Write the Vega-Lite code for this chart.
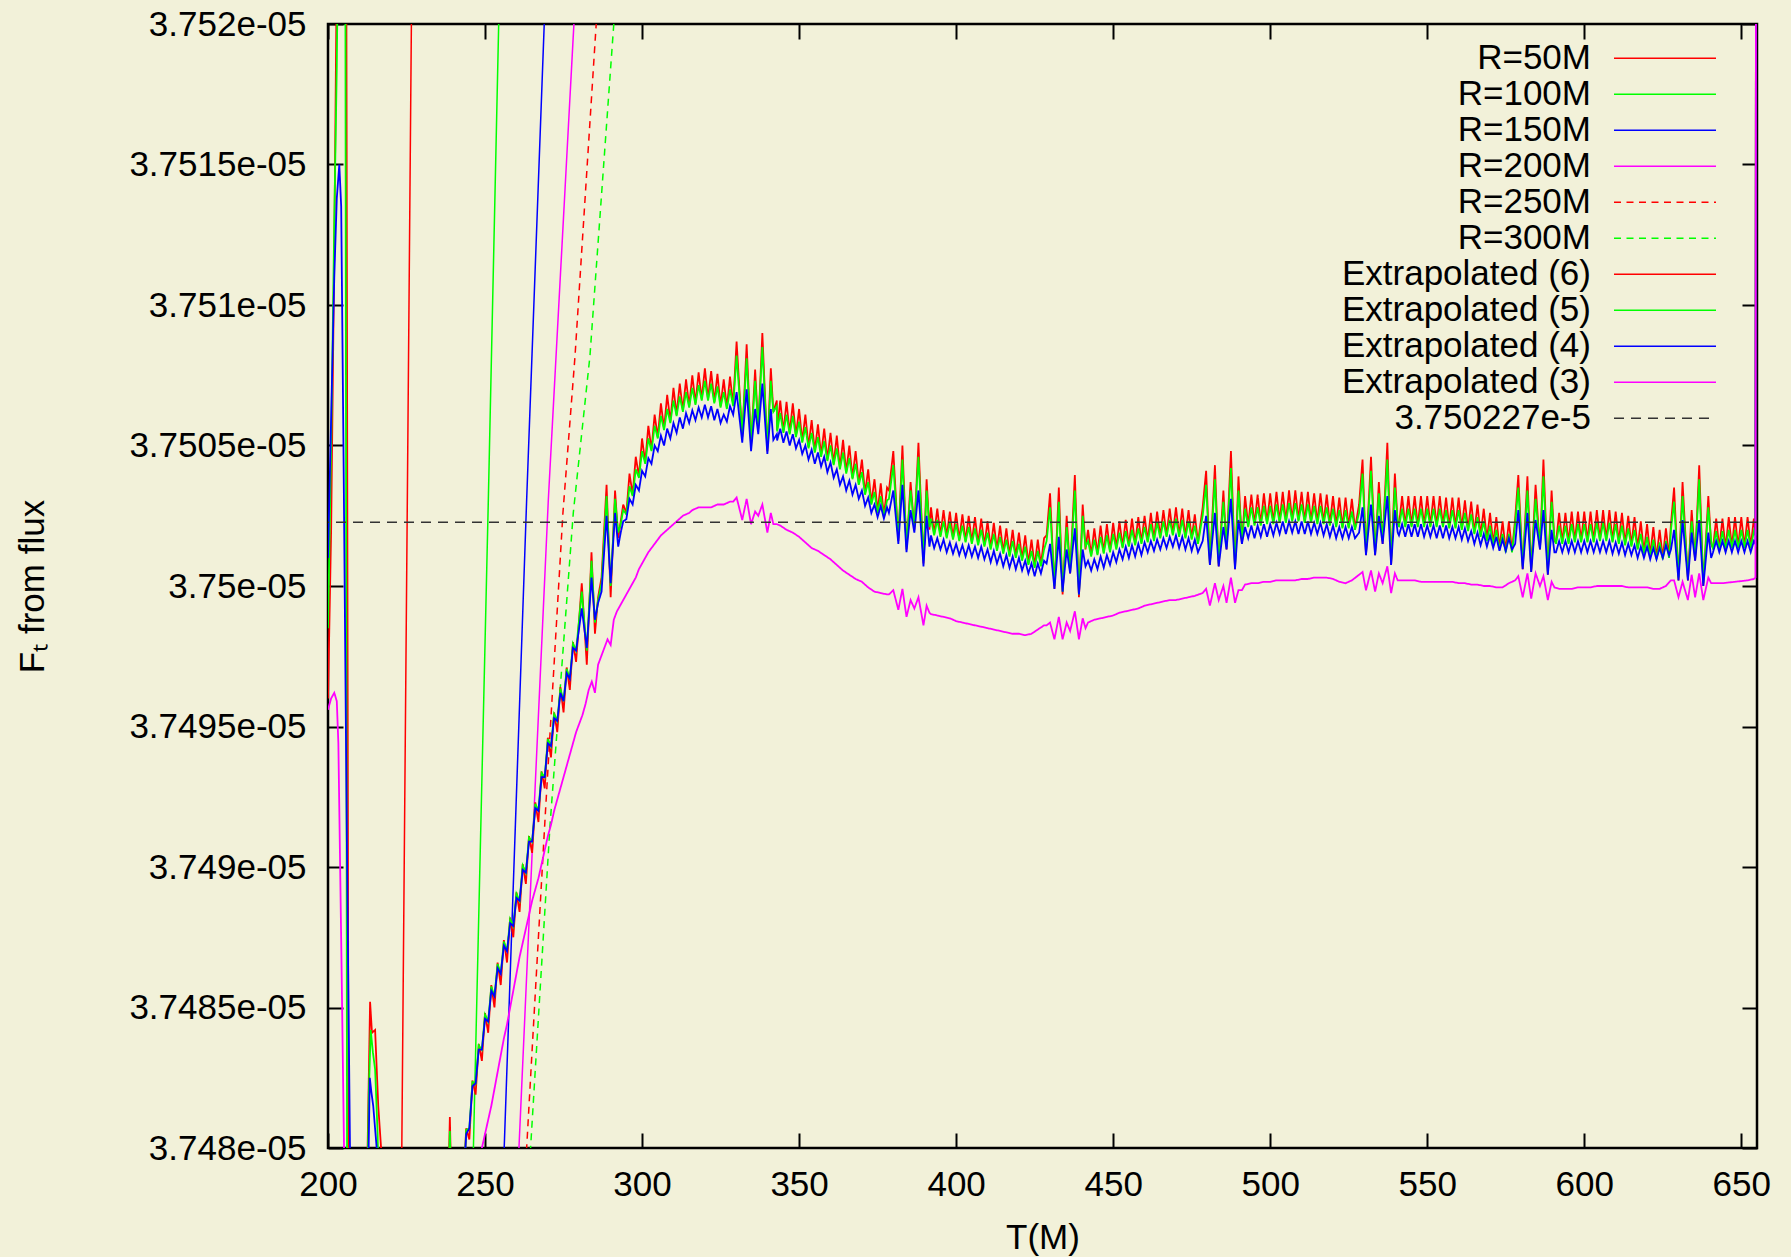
{
"$schema":"https://vega.github.io/schema/vega-lite/v6.json",
"width":1429,"height":1124,
"autosize":{"type":"none"},
"padding":{"left":328,"top":24,"right":34,"bottom":109},
"background":"#f2f1d9",
"config":{
"view":{"stroke":"#000","strokeWidth":2.5},
"font":"Liberation Sans",
"axis":{"labelFont":"Liberation Sans","labelFontSize":35,"labelColor":"#000","titleFont":"Liberation Sans","titleFontSize":35,"titleFontWeight":"normal","titleColor":"#000","tickColor":"#000","tickWidth":2,"tickSize":-15,"domain":false,"grid":false,"labelFlush":false,"labelOverlap":false},
"legend":{"orient":"none","legendX":1319.5,"legendY":16.8,"labelFont":"Liberation Sans","labelFontSize":35,"labelColor":"#000","labelLimit":0,"labelAlign":"right","labelOffset":-91.5,"symbolType":"M-3.045,0H3.045","symbolSize":1122,"symbolStrokeWidth":1.5,"rowPadding":-1.3,"padding":0}
},
"datasets":{
"raw":[
{"s":"R=50M","T":222,"F":3.74603e-5},{"s":"R=50M","T":223.5,"F":3.748e-5},{"s":"R=50M","T":226.55,"F":3.752e-5},{"s":"R=50M","T":228,"F":3.7539e-5},
{"s":"R=100M","T":245,"F":3.74735e-5},{"s":"R=100M","T":246.3,"F":3.748e-5},{"s":"R=100M","T":251.05,"F":3.750306e-5},{"s":"R=100M","T":254.35,"F":3.752e-5},{"s":"R=100M","T":256,"F":3.75285e-5},
{"s":"R=150M","T":255,"F":3.74765e-5},{"s":"R=150M","T":256.1,"F":3.748e-5},{"s":"R=150M","T":263.25,"F":3.750306e-5},{"s":"R=150M","T":268.85,"F":3.752e-5},{"s":"R=150M","T":271,"F":3.7526e-5},
{"s":"R=200M","T":259,"F":3.74755e-5},{"s":"R=200M","T":260.8,"F":3.748e-5},{"s":"R=200M","T":265.4,"F":3.74915e-5},{"s":"R=200M","T":270.15,"F":3.750306e-5},{"s":"R=200M","T":278.3,"F":3.752e-5},{"s":"R=200M","T":281,"F":3.7525e-5},
{"s":"R=250M","T":261,"F":3.7475e-5},{"s":"R=250M","T":263.25,"F":3.748e-5},{"s":"R=250M","T":269.1,"F":3.74917e-5},{"s":"R=250M","T":274.8,"F":3.75026e-5},{"s":"R=250M","T":278.65,"F":3.750818e-5},{"s":"R=250M","T":285.4,"F":3.752e-5},{"s":"R=250M","T":288,"F":3.75235e-5},
{"s":"R=300M","T":262,"F":3.74745e-5},{"s":"R=300M","T":264.5,"F":3.748e-5},{"s":"R=300M","T":270.7,"F":3.74915e-5},{"s":"R=300M","T":278.1,"F":3.75026e-5},{"s":"R=300M","T":283.4,"F":3.750818e-5},{"s":"R=300M","T":291,"F":3.752e-5},{"s":"R=300M","T":294,"F":3.75235e-5}
],
"ref":[{"s":"3.750227e-5","F":3.750227e-5}],
"ext":[
{"T":200,"a":3.7496e-5,"b":3.74985e-5,"c":3.7501e-5,"d":3.74956e-5},
{"T":201,"a":3.7502e-5,"b":3.7505e-5,"c":3.7506e-5,"d":3.7496e-5},
{"T":202,"a":3.7512e-5,"b":3.7513e-5,"c":3.7511e-5,"d":3.74962e-5},
{"T":202.8,"a":3.7522e-5,"b":3.75185e-5,"c":3.75138e-5,"d":3.74959e-5},
{"T":203.3,"a":3.7526e-5,"b":3.7524e-5,"d":3.74944e-5},
{"T":203.6,"c":3.7515e-5},
{"T":204.2,"c":3.75135e-5},
{"T":204.3,"d":3.74866e-5},
{"T":205,"a":3.7527e-5,"b":3.7526e-5,"c":3.7504e-5},
{"T":205.1,"d":3.748e-5},
{"T":205.5,"b":3.7524e-5,"d":3.7477e-5},
{"T":205.8,"a":3.7524e-5},
{"T":206,"c":3.7491e-5},
{"T":206.1,"b":3.7477e-5},
{"T":206.6,"a":3.7476e-5},
{"T":207,"c":3.748e-5},
{"T":207.5,"c":3.7475e-5},
{"T":210,"a":3.7474e-5,"b":3.7474e-5,"c":3.7474e-5,"d":3.7472e-5},
{"T":212.3,"a":3.7478e-5,"b":3.7477e-5},
{"T":212.8,"c":3.7479e-5},
{"T":213,"b":3.7482e-5},
{"T":213.3,"c":3.74825e-5},
{"T":213.4,"a":3.74852e-5},
{"T":213.6,"b":3.74842e-5},
{"T":213.8,"c":3.7482e-5},
{"T":214,"a":3.74841e-5},
{"T":214.3,"b":3.74834e-5},
{"T":214.4,"c":3.74815e-5},
{"T":215,"a":3.74842e-5,"b":3.74828e-5},
{"T":215.5,"c":3.748e-5},
{"T":215.8,"b":3.74805e-5},
{"T":216,"a":3.74815e-5,"c":3.7477e-5},
{"T":216.4,"b":3.7477e-5},
{"T":216.9,"a":3.748e-5},
{"T":217.5,"a":3.7476e-5},
{"T":225,"a":3.7474e-5,"b":3.7474e-5,"c":3.7474e-5},
{"T":238.2,"a":3.7478e-5,"b":3.7478e-5},
{"T":238.8,"a":3.74811e-5,"b":3.74806e-5},
{"T":239.4,"a":3.7478e-5,"b":3.7478e-5},
{"T":240,"d":3.7474e-5},
{"T":242.5,"a":3.7477e-5,"b":3.7477e-5,"c":3.7477e-5},
{"T":243.3,"c":3.7479e-5},
{"T":244,"a":3.74807e-5,"b":3.748065e-5,"c":3.74805e-5},
{"T":245,"a":3.74803e-5,"b":3.74807e-5,"c":3.74807e-5},
{"T":246,"a":3.74824e-5,"b":3.748235e-5,"c":3.74822e-5},
{"T":247,"a":3.74819e-5,"b":3.74823e-5,"c":3.74823e-5},
{"T":248,"a":3.74837e-5,"b":3.748365e-5,"c":3.74835e-5,"d":3.74785e-5},
{"T":249,"a":3.74831e-5,"b":3.74835e-5,"c":3.74835e-5,"d":3.748e-5},
{"T":250,"a":3.74848e-5,"b":3.748475e-5,"c":3.74846e-5,"d":3.74805e-5},
{"T":251,"a":3.74841e-5,"b":3.74845e-5,"c":3.74845e-5,"d":3.7481e-5},
{"T":252,"a":3.74858e-5,"b":3.748575e-5,"c":3.74856e-5,"d":3.74815e-5},
{"T":253,"a":3.7485e-5,"b":3.74854e-5,"c":3.74854e-5,"d":3.74821e-5},
{"T":254,"a":3.74866e-5,"b":3.748655e-5,"c":3.74864e-5,"d":3.74827e-5},
{"T":255,"a":3.74858e-5,"b":3.74862e-5,"c":3.74862e-5,"d":3.74833e-5},
{"T":256,"a":3.74874e-5,"b":3.748735e-5,"c":3.74872e-5,"d":3.74839e-5},
{"T":257,"a":3.74866e-5,"b":3.7487e-5,"c":3.7487e-5,"d":3.74844e-5},
{"T":258,"a":3.74882e-5,"b":3.748815e-5,"c":3.7488e-5,"d":3.7485e-5},
{"T":259,"a":3.74875e-5,"b":3.74879e-5,"c":3.74879e-5,"d":3.74856e-5},
{"T":260,"a":3.74891e-5,"b":3.748905e-5,"c":3.74889e-5,"d":3.74862e-5},
{"T":261,"a":3.74884e-5,"b":3.74888e-5,"c":3.74888e-5,"d":3.74868e-5},
{"T":262,"a":3.74901e-5,"b":3.749005e-5,"c":3.74899e-5,"d":3.74873e-5},
{"T":263,"a":3.74894e-5,"b":3.74898e-5,"c":3.74898e-5,"d":3.74878e-5},
{"T":264,"a":3.74911e-5,"b":3.749105e-5,"c":3.74909e-5,"d":3.74883e-5},
{"T":265,"a":3.74905e-5,"b":3.74909e-5,"c":3.74909e-5,"d":3.74888e-5},
{"T":266,"a":3.74923e-5,"b":3.749225e-5,"c":3.74921e-5,"d":3.74892e-5},
{"T":267,"a":3.74916e-5,"b":3.7492e-5,"c":3.7492e-5,"d":3.74896e-5},
{"T":268,"a":3.74934e-5,"b":3.749335e-5,"c":3.74932e-5,"d":3.74901e-5},
{"T":269,"a":3.74928e-5,"b":3.74932e-5,"c":3.74932e-5,"d":3.74906e-5},
{"T":270,"a":3.74946e-5,"b":3.749455e-5,"c":3.74944e-5,"d":3.74911e-5},
{"T":271,"a":3.74939e-5,"b":3.74943e-5,"c":3.74943e-5,"d":3.74915e-5},
{"T":272,"a":3.74955e-5,"b":3.749545e-5,"c":3.74953e-5,"d":3.7492e-5},
{"T":273,"a":3.74948e-5,"b":3.74952e-5,"c":3.74952e-5,"d":3.74924e-5},
{"T":274,"a":3.74964e-5,"b":3.749635e-5,"c":3.74962e-5,"d":3.74928e-5},
{"T":275,"a":3.74955e-5,"b":3.74959e-5,"c":3.74959e-5,"d":3.74932e-5},
{"T":276,"a":3.74971e-5,"b":3.749705e-5,"c":3.74969e-5,"d":3.74936e-5},
{"T":277,"a":3.74963e-5,"b":3.74967e-5,"c":3.74967e-5,"d":3.7494e-5},
{"T":278,"a":3.7498e-5,"b":3.749795e-5,"c":3.74978e-5,"d":3.74944e-5},
{"T":279,"a":3.74973e-5,"b":3.74977e-5,"c":3.74977e-5,"d":3.74948e-5},
{"T":280,"d":3.74951e-5},
{"T":280.8,"a":3.75001e-5,"b":3.74998e-5,"c":3.74992e-5},
{"T":281,"d":3.74954e-5},
{"T":282,"d":3.74958e-5},
{"T":282.4,"a":3.74972e-5,"b":3.74977e-5,"c":3.74978e-5},
{"T":283,"d":3.74963e-5},
{"T":283.9,"a":3.75012e-5,"b":3.75009e-5,"c":3.75003e-5},
{"T":284,"d":3.74966e-5},
{"T":285,"a":3.74983e-5,"b":3.74987e-5,"c":3.74988e-5,"d":3.74962e-5},
{"T":286,"a":3.74996e-5,"b":3.74995e-5,"c":3.74994e-5,"d":3.74972e-5},
{"T":287,"d":3.74975e-5},
{"T":287.1,"a":3.75003e-5,"b":3.75001e-5,"c":3.74998e-5},
{"T":288,"d":3.74978e-5},
{"T":288.7,"a":3.75036e-5,"b":3.75032e-5,"c":3.75025e-5},
{"T":289,"d":3.74981e-5},
{"T":290,"a":3.74996e-5,"b":3.75e-5,"c":3.75001e-5,"d":3.74979e-5},
{"T":291,"d":3.74988e-5},
{"T":291.4,"a":3.75034e-5,"b":3.75031e-5,"c":3.75026e-5},
{"T":292,"d":3.74991e-5},
{"T":292.4,"a":3.75017e-5,"b":3.75019e-5,"c":3.75014e-5},
{"T":293,"d":3.74993e-5},
{"T":293.2,"a":3.75023e-5,"b":3.75022e-5,"c":3.75019e-5},
{"T":294,"a":3.75029e-5,"b":3.75027e-5,"c":3.75023e-5,"d":3.74995e-5},
{"T":295,"a":3.75026e-5,"b":3.750255e-5,"c":3.750238e-5,"d":3.74997e-5},
{"T":296,"a":3.7504e-5,"b":3.750355e-5,"c":3.75031e-5,"d":3.74999e-5},
{"T":297,"a":3.750325e-5,"b":3.75032e-5,"c":3.75029e-5,"d":3.75001e-5},
{"T":298,"a":3.75046e-5,"b":3.750415e-5,"c":3.75036e-5,"d":3.75003e-5},
{"T":299,"a":3.75039e-5,"b":3.750385e-5,"c":3.75034e-5,"d":3.75006e-5},
{"T":300,"a":3.750525e-5,"b":3.75048e-5,"c":3.75041e-5,"d":3.75008e-5},
{"T":301,"a":3.75044e-5,"b":3.750435e-5,"c":3.75039e-5,"d":3.7501e-5},
{"T":302,"a":3.75057e-5,"b":3.750525e-5,"c":3.750455e-5,"d":3.75012e-5},
{"T":303,"a":3.750485e-5,"b":3.75048e-5,"c":3.750435e-5,"d":3.750135e-5},
{"T":304,"a":3.75061e-5,"b":3.75057e-5,"c":3.7505e-5,"d":3.75015e-5},
{"T":305,"a":3.75053e-5,"b":3.750525e-5,"c":3.75048e-5,"d":3.750165e-5},
{"T":306,"a":3.75065e-5,"b":3.750605e-5,"c":3.750535e-5,"d":3.75018e-5},
{"T":307,"a":3.75056e-5,"b":3.750555e-5,"c":3.7505e-5,"d":3.75019e-5},
{"T":308,"a":3.75068e-5,"b":3.75063e-5,"c":3.75056e-5,"d":3.7502e-5},
{"T":309,"a":3.750585e-5,"b":3.75058e-5,"c":3.750525e-5,"d":3.75021e-5},
{"T":310,"a":3.750705e-5,"b":3.75066e-5,"c":3.75058e-5,"d":3.75022e-5},
{"T":311,"a":3.75061e-5,"b":3.750605e-5,"c":3.750545e-5,"d":3.75023e-5},
{"T":312,"a":3.75072e-5,"b":3.750675e-5,"c":3.7506e-5,"d":3.75024e-5},
{"T":313,"a":3.750625e-5,"b":3.75062e-5,"c":3.75056e-5,"d":3.75025e-5},
{"T":314,"a":3.750735e-5,"b":3.75069e-5,"c":3.750615e-5,"d":3.750255e-5},
{"T":315,"a":3.75064e-5,"b":3.750635e-5,"c":3.75058e-5,"d":3.75026e-5},
{"T":316,"a":3.75075e-5,"b":3.750705e-5,"c":3.750625e-5,"d":3.75027e-5},
{"T":317,"a":3.75065e-5,"b":3.750645e-5,"c":3.75059e-5,"d":3.750275e-5},
{"T":318,"a":3.75076e-5,"b":3.750715e-5,"c":3.750635e-5,"d":3.75028e-5},
{"T":319,"a":3.750665e-5,"b":3.75066e-5,"c":3.7506e-5,"d":3.75028e-5},
{"T":320,"a":3.750775e-5,"b":3.75073e-5,"c":3.750645e-5,"d":3.75028e-5},
{"T":321,"a":3.750665e-5,"b":3.75066e-5,"c":3.7506e-5,"d":3.75028e-5},
{"T":322,"a":3.750765e-5,"b":3.75072e-5,"c":3.75064e-5,"d":3.75028e-5},
{"T":323,"a":3.750655e-5,"b":3.75065e-5,"c":3.75059e-5,"d":3.750285e-5},
{"T":324,"a":3.750755e-5,"b":3.75071e-5,"c":3.75063e-5,"d":3.75029e-5},
{"T":325,"a":3.75064e-5,"b":3.750635e-5,"c":3.75058e-5,"d":3.75029e-5},
{"T":326,"a":3.750735e-5,"b":3.75069e-5,"c":3.75061e-5,"d":3.75029e-5},
{"T":327,"a":3.750635e-5,"b":3.75063e-5,"c":3.750585e-5,"d":3.750295e-5},
{"T":328,"a":3.750745e-5,"b":3.7507e-5,"c":3.75064e-5,"d":3.7503e-5},
{"T":329,"a":3.750645e-5,"b":3.75064e-5,"c":3.75061e-5,"d":3.7503e-5},
{"T":330.1,"a":3.75087e-5,"b":3.75082e-5,"c":3.75069e-5,"d":3.750315e-5},
{"T":331.9,"a":3.75053e-5,"b":3.75054e-5,"c":3.75051e-5,"d":3.750235e-5},
{"T":333.3,"a":3.75086e-5,"b":3.75081e-5,"c":3.7507e-5,"d":3.75031e-5},
{"T":334.7,"a":3.7505e-5,"b":3.75051e-5,"c":3.75048e-5,"d":3.75022e-5},
{"T":336,"a":3.75077e-5,"b":3.75073e-5,"c":3.75063e-5,"d":3.750265e-5},
{"T":337,"a":3.75056e-5,"b":3.75057e-5,"c":3.75054e-5,"d":3.75025e-5},
{"T":338.3,"a":3.7509e-5,"b":3.75085e-5,"c":3.75072e-5,"d":3.75029e-5},
{"T":339.9,"a":3.75048e-5,"b":3.75049e-5,"c":3.75047e-5,"d":3.75019e-5},
{"T":341,"a":3.750775e-5,"b":3.75073e-5,"c":3.75063e-5,"d":3.75026e-5},
{"T":341.8,"a":3.75062e-5,"b":3.75062e-5,"c":3.75052e-5,"d":3.75022e-5},
{"T":342.9,"a":3.75066e-5,"b":3.75064e-5,"c":3.75054e-5,"d":3.75022e-5},
{"T":343,"a":3.750555e-5,"b":3.75055e-5,"c":3.750518e-5},
{"T":344,"a":3.75066e-5,"b":3.750615e-5,"c":3.75056e-5,"d":3.750215e-5},
{"T":345,"a":3.75055e-5,"b":3.750545e-5,"c":3.75051e-5},
{"T":346,"a":3.750655e-5,"b":3.75061e-5,"c":3.75055e-5,"d":3.7502e-5},
{"T":347,"a":3.750545e-5,"b":3.75054e-5,"c":3.7505e-5},
{"T":348,"a":3.75065e-5,"b":3.750605e-5,"c":3.75054e-5,"d":3.75019e-5},
{"T":349,"a":3.750535e-5,"b":3.75053e-5,"c":3.75049e-5},
{"T":350,"a":3.75063e-5,"b":3.750585e-5,"c":3.75052e-5,"d":3.750175e-5},
{"T":351,"a":3.750515e-5,"b":3.75051e-5,"c":3.75047e-5},
{"T":352,"a":3.75061e-5,"b":3.750565e-5,"c":3.7505e-5,"d":3.750155e-5},
{"T":353,"a":3.750495e-5,"b":3.75049e-5,"c":3.75045e-5},
{"T":354,"a":3.75059e-5,"b":3.750545e-5,"c":3.750485e-5,"d":3.750135e-5},
{"T":355,"a":3.75048e-5,"b":3.750475e-5,"c":3.750435e-5},
{"T":356,"a":3.750575e-5,"b":3.75053e-5,"c":3.750475e-5,"d":3.750125e-5},
{"T":357,"a":3.750465e-5,"b":3.75046e-5,"c":3.750425e-5},
{"T":358,"a":3.75056e-5,"b":3.750515e-5,"c":3.75046e-5,"d":3.75011e-5},
{"T":359,"a":3.75045e-5,"b":3.750445e-5,"c":3.750405e-5},
{"T":360,"a":3.750545e-5,"b":3.7505e-5,"c":3.75044e-5,"d":3.750095e-5},
{"T":361,"a":3.750435e-5,"b":3.75043e-5,"c":3.750385e-5},
{"T":362,"a":3.750535e-5,"b":3.75049e-5,"c":3.750415e-5,"d":3.750075e-5},
{"T":363,"a":3.75042e-5,"b":3.750415e-5,"c":3.75036e-5},
{"T":364,"a":3.75052e-5,"b":3.750475e-5,"c":3.75039e-5,"d":3.750055e-5},
{"T":365,"a":3.750405e-5,"b":3.7504e-5,"c":3.75034e-5},
{"T":366,"a":3.7505e-5,"b":3.750455e-5,"c":3.750375e-5,"d":3.75004e-5},
{"T":367,"a":3.750385e-5,"b":3.75038e-5,"c":3.750325e-5},
{"T":368,"a":3.75048e-5,"b":3.750435e-5,"c":3.75036e-5,"d":3.750025e-5},
{"T":369,"a":3.750365e-5,"b":3.75036e-5,"c":3.75031e-5},
{"T":370,"a":3.75045e-5,"b":3.750405e-5,"c":3.75034e-5,"d":3.750015e-5},
{"T":371,"a":3.75033e-5,"b":3.750325e-5,"c":3.750285e-5},
{"T":372,"a":3.750415e-5,"b":3.75037e-5,"c":3.750315e-5,"d":3.749995e-5},
{"T":373,"a":3.750295e-5,"b":3.75029e-5,"c":3.75026e-5},
{"T":374,"a":3.75038e-5,"b":3.750335e-5,"c":3.75029e-5,"d":3.74998e-5},
{"T":375,"a":3.750265e-5,"b":3.75026e-5,"c":3.750245e-5},
{"T":376,"a":3.750365e-5,"b":3.75032e-5,"c":3.750285e-5,"d":3.749975e-5},
{"T":377,"a":3.75025e-5,"b":3.750245e-5,"c":3.75024e-5},
{"T":378,"a":3.75035e-5,"b":3.750305e-5,"c":3.75028e-5,"d":3.74997e-5},
{"T":378.6,"a":3.75034e-5,"b":3.75031e-5,"c":3.75026e-5,"d":3.74997e-5},
{"T":380,"a":3.75048e-5,"b":3.75043e-5,"c":3.75034e-5,"d":3.749985e-5},
{"T":381.6,"a":3.75016e-5,"b":3.75017e-5,"c":3.75015e-5,"d":3.749915e-5},
{"T":382.9,"a":3.7505e-5,"b":3.75045e-5,"c":3.75036e-5,"d":3.74999e-5},
{"T":384.2,"a":3.75013e-5,"b":3.75014e-5,"c":3.75012e-5,"d":3.74989e-5},
{"T":385.5,"a":3.75037e-5,"b":3.75034e-5,"c":3.75027e-5,"d":3.74995e-5},
{"T":386.7,"a":3.7502e-5,"b":3.75021e-5,"c":3.75019e-5,"d":3.74992e-5},
{"T":388,"a":3.75051e-5,"b":3.75046e-5,"c":3.75034e-5,"d":3.74996e-5},
{"T":389.6,"a":3.75008e-5,"b":3.75009e-5,"c":3.75007e-5,"d":3.74986e-5},
{"T":390.6,"a":3.75038e-5,"b":3.75034e-5,"c":3.75025e-5,"d":3.74993e-5},
{"T":391.5,"a":3.7502e-5,"b":3.75021e-5,"c":3.75014e-5,"d":3.749905e-5},
{"T":392,"a":3.75028e-5,"b":3.75024e-5,"c":3.75018e-5,"d":3.7499e-5},
{"T":393,"a":3.750185e-5,"b":3.75018e-5,"c":3.750135e-5},
{"T":394,"a":3.750275e-5,"b":3.750235e-5,"c":3.75017e-5,"d":3.749895e-5},
{"T":395,"a":3.75018e-5,"b":3.750175e-5,"c":3.75013e-5},
{"T":396,"a":3.75027e-5,"b":3.75023e-5,"c":3.750165e-5,"d":3.74989e-5},
{"T":397,"a":3.750175e-5,"b":3.75017e-5,"c":3.75012e-5},
{"T":398,"a":3.750265e-5,"b":3.750225e-5,"c":3.750155e-5,"d":3.749885e-5},
{"T":399,"a":3.75017e-5,"b":3.750165e-5,"c":3.750115e-5},
{"T":400,"a":3.75026e-5,"b":3.75022e-5,"c":3.75015e-5,"d":3.749875e-5},
{"T":401,"a":3.750165e-5,"b":3.75016e-5,"c":3.75011e-5},
{"T":402,"a":3.750255e-5,"b":3.750215e-5,"c":3.750145e-5,"d":3.74987e-5},
{"T":403,"a":3.75016e-5,"b":3.750155e-5,"c":3.750105e-5},
{"T":404,"a":3.75025e-5,"b":3.75021e-5,"c":3.750145e-5,"d":3.749865e-5},
{"T":405,"a":3.750155e-5,"b":3.75015e-5,"c":3.750105e-5},
{"T":406,"a":3.750245e-5,"b":3.750205e-5,"c":3.75014e-5,"d":3.74986e-5},
{"T":407,"a":3.75015e-5,"b":3.750145e-5,"c":3.7501e-5},
{"T":408,"a":3.75024e-5,"b":3.7502e-5,"c":3.75014e-5,"d":3.749855e-5},
{"T":409,"a":3.750145e-5,"b":3.75014e-5,"c":3.750095e-5},
{"T":410,"a":3.75023e-5,"b":3.75019e-5,"c":3.75013e-5,"d":3.74985e-5},
{"T":411,"a":3.750135e-5,"b":3.75013e-5,"c":3.750085e-5},
{"T":412,"a":3.750225e-5,"b":3.750185e-5,"c":3.750125e-5,"d":3.749845e-5},
{"T":413,"a":3.75013e-5,"b":3.750125e-5,"c":3.75008e-5},
{"T":414,"a":3.750215e-5,"b":3.750175e-5,"c":3.750115e-5,"d":3.74984e-5},
{"T":415,"a":3.75012e-5,"b":3.750115e-5,"c":3.75007e-5},
{"T":416,"a":3.750205e-5,"b":3.750165e-5,"c":3.75011e-5,"d":3.749835e-5},
{"T":417,"a":3.75011e-5,"b":3.750105e-5,"c":3.750065e-5},
{"T":418,"a":3.7502e-5,"b":3.75016e-5,"c":3.750105e-5,"d":3.74983e-5},
{"T":419,"a":3.750105e-5,"b":3.7501e-5,"c":3.75006e-5},
{"T":420,"a":3.75019e-5,"b":3.75015e-5,"c":3.7501e-5,"d":3.74983e-5},
{"T":421,"a":3.750095e-5,"b":3.75009e-5,"c":3.750055e-5},
{"T":422,"a":3.75018e-5,"b":3.75014e-5,"c":3.75009e-5,"d":3.749825e-5},
{"T":423,"a":3.75008e-5,"b":3.750075e-5,"c":3.750045e-5},
{"T":424,"a":3.750165e-5,"b":3.750125e-5,"c":3.75008e-5,"d":3.74983e-5},
{"T":425,"a":3.75007e-5,"b":3.750065e-5,"c":3.750035e-5},
{"T":426,"a":3.750165e-5,"b":3.750125e-5,"c":3.75008e-5,"d":3.749845e-5},
{"T":427,"a":3.750075e-5,"b":3.75007e-5,"c":3.750045e-5},
{"T":428,"a":3.75017e-5,"b":3.75013e-5,"c":3.75009e-5,"d":3.74986e-5},
{"T":428.8,"a":3.75018e-5,"b":3.75016e-5,"c":3.75008e-5,"d":3.74986e-5},
{"T":429.9,"a":3.75033e-5,"b":3.75028e-5,"c":3.75015e-5,"d":3.74987e-5},
{"T":431.3,"a":3.74999e-5,"b":3.75e-5,"c":3.74999e-5,"d":3.74981e-5},
{"T":432.7,"a":3.75035e-5,"b":3.7503e-5,"c":3.750175e-5,"d":3.74989e-5},
{"T":433.9,"a":3.74997e-5,"b":3.74998e-5,"c":3.74998e-5,"d":3.74981e-5},
{"T":435.2,"a":3.75025e-5,"b":3.75021e-5,"c":3.75013e-5,"d":3.74987e-5},
{"T":436.3,"a":3.750045e-5,"b":3.75005e-5,"c":3.750045e-5,"d":3.74984e-5},
{"T":437.8,"a":3.750395e-5,"b":3.75034e-5,"c":3.750205e-5,"d":3.74991e-5},
{"T":439.1,"a":3.74996e-5,"b":3.74997e-5,"c":3.74997e-5,"d":3.74981e-5},
{"T":440.3,"a":3.75029e-5,"b":3.75025e-5,"c":3.75013e-5,"d":3.749885e-5},
{"T":441.2,"a":3.75013e-5,"b":3.75014e-5,"c":3.75007e-5,"d":3.74985e-5},
{"T":442,"a":3.7502e-5,"b":3.75016e-5,"c":3.75009e-5,"d":3.74987e-5},
{"T":443,"a":3.75011e-5,"b":3.750105e-5,"c":3.750055e-5},
{"T":444,"a":3.750205e-5,"b":3.750165e-5,"c":3.750095e-5,"d":3.74988e-5},
{"T":445,"a":3.750115e-5,"b":3.75011e-5,"c":3.75006e-5},
{"T":446,"a":3.750215e-5,"b":3.750175e-5,"c":3.750105e-5,"d":3.749885e-5},
{"T":447,"a":3.75012e-5,"b":3.750115e-5,"c":3.750065e-5},
{"T":448,"a":3.75022e-5,"b":3.75018e-5,"c":3.75011e-5,"d":3.74989e-5},
{"T":449,"a":3.750125e-5,"b":3.75012e-5,"c":3.750075e-5},
{"T":450,"a":3.750225e-5,"b":3.750185e-5,"c":3.75012e-5,"d":3.749895e-5},
{"T":451,"a":3.750135e-5,"b":3.75013e-5,"c":3.750085e-5},
{"T":452,"a":3.75023e-5,"b":3.75019e-5,"c":3.75013e-5,"d":3.749905e-5},
{"T":453,"a":3.75014e-5,"b":3.750135e-5,"c":3.750095e-5},
{"T":454,"a":3.750235e-5,"b":3.750195e-5,"c":3.75014e-5,"d":3.74991e-5},
{"T":455,"a":3.750145e-5,"b":3.75014e-5,"c":3.7501e-5},
{"T":456,"a":3.75024e-5,"b":3.7502e-5,"c":3.750145e-5,"d":3.749915e-5},
{"T":457,"a":3.75015e-5,"b":3.750145e-5,"c":3.750105e-5},
{"T":458,"a":3.750245e-5,"b":3.750205e-5,"c":3.75015e-5,"d":3.74992e-5},
{"T":459,"a":3.750155e-5,"b":3.75015e-5,"c":3.75011e-5},
{"T":460,"a":3.75025e-5,"b":3.75021e-5,"c":3.750155e-5,"d":3.74993e-5},
{"T":461,"a":3.75016e-5,"b":3.750155e-5,"c":3.75012e-5},
{"T":462,"a":3.75026e-5,"b":3.75022e-5,"c":3.75016e-5,"d":3.749935e-5},
{"T":463,"a":3.750165e-5,"b":3.75016e-5,"c":3.750125e-5},
{"T":464,"a":3.750265e-5,"b":3.750225e-5,"c":3.750165e-5,"d":3.74994e-5},
{"T":465,"a":3.750175e-5,"b":3.75017e-5,"c":3.75013e-5},
{"T":466,"a":3.75027e-5,"b":3.75023e-5,"c":3.75017e-5,"d":3.749945e-5},
{"T":467,"a":3.75018e-5,"b":3.750175e-5,"c":3.750135e-5},
{"T":468,"a":3.750275e-5,"b":3.750235e-5,"c":3.750175e-5,"d":3.74995e-5},
{"T":469,"a":3.750185e-5,"b":3.75018e-5,"c":3.75014e-5},
{"T":470,"a":3.75028e-5,"b":3.75024e-5,"c":3.75018e-5,"d":3.74995e-5},
{"T":471,"a":3.75018e-5,"b":3.750175e-5,"c":3.750135e-5},
{"T":472,"a":3.750275e-5,"b":3.750235e-5,"c":3.750175e-5,"d":3.749955e-5},
{"T":473,"a":3.750175e-5,"b":3.75017e-5,"c":3.75013e-5},
{"T":474,"a":3.75027e-5,"b":3.75023e-5,"c":3.75017e-5,"d":3.74996e-5},
{"T":475,"a":3.75017e-5,"b":3.750165e-5,"c":3.750125e-5},
{"T":476,"a":3.750255e-5,"b":3.750215e-5,"c":3.750165e-5,"d":3.749965e-5},
{"T":477,"a":3.750155e-5,"b":3.75015e-5,"c":3.75012e-5},
{"T":478.5,"a":3.75028e-5,"b":3.75025e-5,"c":3.75016e-5,"d":3.749975e-5},
{"T":479.6,"a":3.75041e-5,"b":3.75036e-5,"c":3.75025e-5,"d":3.74999e-5},
{"T":480.8,"a":3.750075e-5,"b":3.75008e-5,"c":3.750075e-5,"d":3.74993e-5},
{"T":482.4,"a":3.75043e-5,"b":3.75038e-5,"c":3.75026e-5,"d":3.75001e-5},
{"T":483.6,"a":3.75007e-5,"b":3.75008e-5,"c":3.75007e-5,"d":3.74995e-5},
{"T":485.1,"a":3.75034e-5,"b":3.7503e-5,"c":3.75021e-5,"d":3.75e-5},
{"T":486.1,"a":3.75013e-5,"b":3.75014e-5,"c":3.75013e-5,"d":3.74994e-5},
{"T":487.5,"a":3.75048e-5,"b":3.75042e-5,"c":3.75031e-5,"d":3.75003e-5},
{"T":488.8,"a":3.75006e-5,"b":3.75007e-5,"c":3.75006e-5,"d":3.74994e-5},
{"T":489.9,"a":3.75039e-5,"b":3.75034e-5,"c":3.750235e-5,"d":3.749985e-5},
{"T":491,"a":3.75015e-5,"b":3.75016e-5,"c":3.75015e-5,"d":3.749985e-5},
{"T":492,"a":3.75032e-5,"b":3.750275e-5,"c":3.75021e-5,"d":3.750005e-5},
{"T":493,"a":3.750215e-5,"b":3.75021e-5,"c":3.75017e-5},
{"T":494,"a":3.750325e-5,"b":3.75028e-5,"c":3.750215e-5,"d":3.75001e-5},
{"T":495,"a":3.75022e-5,"b":3.750215e-5,"c":3.75017e-5},
{"T":496,"a":3.750325e-5,"b":3.75028e-5,"c":3.750215e-5,"d":3.75001e-5},
{"T":497,"a":3.75022e-5,"b":3.750215e-5,"c":3.750175e-5},
{"T":498,"a":3.75033e-5,"b":3.750285e-5,"c":3.75022e-5,"d":3.750015e-5},
{"T":499,"a":3.750225e-5,"b":3.75022e-5,"c":3.750175e-5},
{"T":500,"a":3.75033e-5,"b":3.750285e-5,"c":3.75022e-5,"d":3.750015e-5},
{"T":501,"a":3.750225e-5,"b":3.75022e-5,"c":3.75018e-5},
{"T":502,"a":3.750335e-5,"b":3.75029e-5,"c":3.750225e-5,"d":3.75002e-5},
{"T":503,"a":3.75023e-5,"b":3.750225e-5,"c":3.750185e-5},
{"T":504,"a":3.750335e-5,"b":3.75029e-5,"c":3.75023e-5,"d":3.75002e-5},
{"T":505,"a":3.75023e-5,"b":3.750225e-5,"c":3.750185e-5},
{"T":506,"a":3.75034e-5,"b":3.750295e-5,"c":3.75023e-5,"d":3.75002e-5},
{"T":507,"a":3.750235e-5,"b":3.75023e-5,"c":3.75019e-5},
{"T":508,"a":3.75034e-5,"b":3.750295e-5,"c":3.75023e-5,"d":3.75002e-5},
{"T":509,"a":3.750235e-5,"b":3.75023e-5,"c":3.750185e-5},
{"T":510,"a":3.750335e-5,"b":3.75029e-5,"c":3.75023e-5,"d":3.750025e-5},
{"T":511,"a":3.75023e-5,"b":3.750225e-5,"c":3.750185e-5},
{"T":512,"a":3.750335e-5,"b":3.75029e-5,"c":3.75023e-5,"d":3.750025e-5},
{"T":513,"a":3.75023e-5,"b":3.750225e-5,"c":3.750185e-5},
{"T":514,"a":3.75033e-5,"b":3.750285e-5,"c":3.750225e-5,"d":3.75003e-5},
{"T":515,"a":3.750225e-5,"b":3.75022e-5,"c":3.750185e-5},
{"T":516,"a":3.75033e-5,"b":3.750285e-5,"c":3.750225e-5,"d":3.75003e-5},
{"T":517,"a":3.750225e-5,"b":3.75022e-5,"c":3.75018e-5},
{"T":518,"a":3.750325e-5,"b":3.75028e-5,"c":3.75022e-5,"d":3.75003e-5},
{"T":519,"a":3.75022e-5,"b":3.750215e-5,"c":3.750175e-5},
{"T":520,"a":3.75032e-5,"b":3.750275e-5,"c":3.750215e-5,"d":3.750025e-5},
{"T":521,"a":3.750215e-5,"b":3.75021e-5,"c":3.75017e-5},
{"T":522,"a":3.750315e-5,"b":3.75027e-5,"c":3.75021e-5,"d":3.750015e-5},
{"T":523,"a":3.75021e-5,"b":3.750205e-5,"c":3.75017e-5},
{"T":524,"a":3.750315e-5,"b":3.75027e-5,"c":3.75021e-5,"d":3.75001e-5},
{"T":525,"a":3.75021e-5,"b":3.750205e-5,"c":3.75017e-5},
{"T":526,"a":3.75031e-5,"b":3.750265e-5,"c":3.75021e-5,"d":3.75002e-5},
{"T":527,"a":3.750205e-5,"b":3.7502e-5,"c":3.75017e-5},
{"T":528.3,"a":3.75029e-5,"b":3.75026e-5,"c":3.75019e-5,"d":3.75004e-5},
{"T":529.4,"a":3.75045e-5,"b":3.7504e-5,"c":3.75028e-5,"d":3.75005e-5},
{"T":530.5,"a":3.75011e-5,"b":3.75012e-5,"c":3.75011e-5,"d":3.749985e-5},
{"T":532.1,"a":3.75046e-5,"b":3.75041e-5,"c":3.75029e-5,"d":3.750055e-5},
{"T":533.4,"a":3.75011e-5,"b":3.75012e-5,"c":3.75011e-5,"d":3.74998e-5},
{"T":534.6,"a":3.75037e-5,"b":3.75033e-5,"c":3.75025e-5,"d":3.750045e-5},
{"T":535.8,"a":3.75015e-5,"b":3.75016e-5,"c":3.75015e-5,"d":3.75001e-5},
{"T":537.3,"a":3.75051e-5,"b":3.75045e-5,"c":3.75032e-5,"d":3.75007e-5},
{"T":538.5,"a":3.750075e-5,"b":3.750085e-5,"c":3.750075e-5,"d":3.749975e-5},
{"T":539.7,"a":3.7504e-5,"b":3.75035e-5,"c":3.75027e-5,"d":3.750045e-5},
{"T":540.6,"a":3.75022e-5,"b":3.75023e-5,"c":3.75019e-5,"d":3.75002e-5},
{"T":541,"a":3.750215e-5,"b":3.75021e-5,"c":3.75018e-5},
{"T":542,"a":3.75032e-5,"b":3.750275e-5,"c":3.75022e-5,"d":3.75002e-5},
{"T":543,"a":3.750215e-5,"b":3.75021e-5,"c":3.750175e-5},
{"T":544,"a":3.75032e-5,"b":3.750275e-5,"c":3.75022e-5,"d":3.75002e-5},
{"T":545,"a":3.750215e-5,"b":3.75021e-5,"c":3.750175e-5},
{"T":546,"a":3.75032e-5,"b":3.750275e-5,"c":3.75022e-5,"d":3.75002e-5},
{"T":547,"a":3.750215e-5,"b":3.75021e-5,"c":3.750175e-5},
{"T":548,"a":3.75032e-5,"b":3.750275e-5,"c":3.75022e-5,"d":3.750015e-5},
{"T":549,"a":3.750215e-5,"b":3.75021e-5,"c":3.750175e-5},
{"T":550,"a":3.75032e-5,"b":3.750275e-5,"c":3.750215e-5,"d":3.750015e-5},
{"T":551,"a":3.750215e-5,"b":3.75021e-5,"c":3.750175e-5},
{"T":552,"a":3.75032e-5,"b":3.750275e-5,"c":3.750215e-5,"d":3.750015e-5},
{"T":553,"a":3.750215e-5,"b":3.75021e-5,"c":3.75017e-5},
{"T":554,"a":3.75032e-5,"b":3.750275e-5,"c":3.750215e-5,"d":3.750015e-5},
{"T":555,"a":3.750215e-5,"b":3.75021e-5,"c":3.75017e-5},
{"T":556,"a":3.750315e-5,"b":3.75027e-5,"c":3.750215e-5,"d":3.750015e-5},
{"T":557,"a":3.75021e-5,"b":3.750205e-5,"c":3.75017e-5},
{"T":558,"a":3.750315e-5,"b":3.75027e-5,"c":3.75021e-5,"d":3.750015e-5},
{"T":559,"a":3.75021e-5,"b":3.750205e-5,"c":3.75017e-5},
{"T":560,"a":3.750315e-5,"b":3.75027e-5,"c":3.75021e-5,"d":3.75001e-5},
{"T":561,"a":3.750205e-5,"b":3.7502e-5,"c":3.750165e-5},
{"T":562,"a":3.750305e-5,"b":3.75026e-5,"c":3.750205e-5,"d":3.75001e-5},
{"T":563,"a":3.7502e-5,"b":3.750195e-5,"c":3.75016e-5},
{"T":564,"a":3.7503e-5,"b":3.750255e-5,"c":3.750195e-5,"d":3.750005e-5},
{"T":565,"a":3.75019e-5,"b":3.750185e-5,"c":3.75015e-5},
{"T":566,"a":3.75029e-5,"b":3.750245e-5,"c":3.75019e-5,"d":3.750005e-5},
{"T":567,"a":3.75018e-5,"b":3.750175e-5,"c":3.750145e-5},
{"T":568,"a":3.750275e-5,"b":3.75023e-5,"c":3.750185e-5,"d":3.75e-5},
{"T":569,"a":3.750165e-5,"b":3.75016e-5,"c":3.75014e-5},
{"T":570,"a":3.75026e-5,"b":3.750215e-5,"c":3.75018e-5,"d":3.75e-5},
{"T":571,"a":3.75015e-5,"b":3.750145e-5,"c":3.750135e-5},
{"T":572,"a":3.750245e-5,"b":3.7502e-5,"c":3.750175e-5,"d":3.749995e-5},
{"T":573,"a":3.750135e-5,"b":3.75013e-5,"c":3.750125e-5},
{"T":574,"a":3.75023e-5,"b":3.750185e-5,"c":3.750165e-5,"d":3.749995e-5},
{"T":575,"a":3.750125e-5,"b":3.75012e-5,"c":3.750125e-5},
{"T":576,"a":3.75023e-5,"b":3.750185e-5,"c":3.75017e-5,"d":3.75001e-5},
{"T":577,"a":3.750125e-5,"b":3.75012e-5,"c":3.75013e-5},
{"T":578,"a":3.75024e-5,"b":3.75022e-5,"c":3.75015e-5,"d":3.75002e-5},
{"T":579,"a":3.750395e-5,"b":3.75035e-5,"c":3.75027e-5,"d":3.750035e-5},
{"T":580.4,"a":3.75006e-5,"b":3.75007e-5,"c":3.75006e-5,"d":3.74996e-5},
{"T":581.9,"a":3.75039e-5,"b":3.75034e-5,"c":3.75026e-5,"d":3.750045e-5},
{"T":583.1,"a":3.75005e-5,"b":3.75006e-5,"c":3.75005e-5,"d":3.749955e-5},
{"T":584.5,"a":3.75036e-5,"b":3.75031e-5,"c":3.750235e-5,"d":3.750045e-5},
{"T":585.9,"a":3.75013e-5,"b":3.75014e-5,"c":3.75013e-5,"d":3.75e-5},
{"T":587,"a":3.75045e-5,"b":3.75039e-5,"c":3.75027e-5,"d":3.750035e-5},
{"T":588.4,"a":3.75004e-5,"b":3.75005e-5,"c":3.75004e-5,"d":3.74995e-5},
{"T":589.6,"a":3.75034e-5,"b":3.7503e-5,"c":3.7502e-5,"d":3.750015e-5},
{"T":590.5,"a":3.75016e-5,"b":3.75017e-5,"c":3.75012e-5,"d":3.749995e-5},
{"T":591,"a":3.750155e-5,"b":3.75015e-5,"c":3.75012e-5},
{"T":592,"a":3.75026e-5,"b":3.750215e-5,"c":3.75016e-5,"d":3.74999e-5},
{"T":593,"a":3.750155e-5,"b":3.75015e-5,"c":3.75012e-5},
{"T":594,"a":3.75026e-5,"b":3.750215e-5,"c":3.75016e-5,"d":3.74999e-5},
{"T":595,"a":3.750155e-5,"b":3.75015e-5,"c":3.75012e-5},
{"T":596,"a":3.750265e-5,"b":3.75022e-5,"c":3.75016e-5,"d":3.74999e-5},
{"T":597,"a":3.75016e-5,"b":3.750155e-5,"c":3.75012e-5},
{"T":598,"a":3.750265e-5,"b":3.75022e-5,"c":3.75016e-5,"d":3.749995e-5},
{"T":599,"a":3.75016e-5,"b":3.750155e-5,"c":3.75012e-5},
{"T":600,"a":3.750265e-5,"b":3.75022e-5,"c":3.75016e-5,"d":3.749995e-5},
{"T":601,"a":3.75016e-5,"b":3.750155e-5,"c":3.75012e-5},
{"T":602,"a":3.750265e-5,"b":3.75022e-5,"c":3.75016e-5,"d":3.749995e-5},
{"T":603,"a":3.75016e-5,"b":3.750155e-5,"c":3.75012e-5},
{"T":604,"a":3.75027e-5,"b":3.750225e-5,"c":3.75016e-5,"d":3.75e-5},
{"T":605,"a":3.750165e-5,"b":3.75016e-5,"c":3.75012e-5},
{"T":606,"a":3.75027e-5,"b":3.750225e-5,"c":3.75016e-5,"d":3.75e-5},
{"T":607,"a":3.750165e-5,"b":3.75016e-5,"c":3.75012e-5},
{"T":608,"a":3.75027e-5,"b":3.750225e-5,"c":3.75016e-5,"d":3.75e-5},
{"T":609,"a":3.75016e-5,"b":3.750155e-5,"c":3.750115e-5},
{"T":610,"a":3.750265e-5,"b":3.75022e-5,"c":3.750155e-5,"d":3.75e-5},
{"T":611,"a":3.750155e-5,"b":3.75015e-5,"c":3.750115e-5},
{"T":612,"a":3.75026e-5,"b":3.750215e-5,"c":3.750155e-5,"d":3.75e-5},
{"T":613,"a":3.75015e-5,"b":3.750145e-5,"c":3.75011e-5},
{"T":614,"a":3.75025e-5,"b":3.750205e-5,"c":3.75015e-5,"d":3.749995e-5},
{"T":615,"a":3.750145e-5,"b":3.75014e-5,"c":3.75011e-5},
{"T":616,"a":3.750245e-5,"b":3.7502e-5,"c":3.750145e-5,"d":3.749995e-5},
{"T":617,"a":3.750135e-5,"b":3.75013e-5,"c":3.7501e-5},
{"T":618,"a":3.75023e-5,"b":3.750185e-5,"c":3.75014e-5,"d":3.749995e-5},
{"T":619,"a":3.75012e-5,"b":3.750115e-5,"c":3.7501e-5},
{"T":620,"a":3.75022e-5,"b":3.750175e-5,"c":3.75014e-5,"d":3.749995e-5},
{"T":621,"a":3.75011e-5,"b":3.750105e-5,"c":3.750095e-5},
{"T":622,"a":3.75021e-5,"b":3.750165e-5,"c":3.750135e-5,"d":3.74999e-5},
{"T":623,"a":3.7501e-5,"b":3.750095e-5,"c":3.750095e-5},
{"T":624,"a":3.7502e-5,"b":3.750155e-5,"c":3.750135e-5,"d":3.74999e-5},
{"T":625,"a":3.7501e-5,"b":3.750095e-5,"c":3.7501e-5},
{"T":626,"a":3.750205e-5,"b":3.75016e-5,"c":3.750145e-5,"d":3.75e-5},
{"T":627,"a":3.750105e-5,"b":3.7501e-5,"c":3.75011e-5},
{"T":627.6,"a":3.75022e-5,"b":3.7502e-5,"c":3.75013e-5,"d":3.75002e-5},
{"T":628.6,"a":3.75035e-5,"b":3.7503e-5,"c":3.7502e-5,"d":3.75002e-5},
{"T":630,"a":3.75002e-5,"b":3.75003e-5,"c":3.75002e-5,"d":3.74996e-5},
{"T":631.3,"a":3.75037e-5,"b":3.75032e-5,"c":3.750235e-5,"d":3.750015e-5},
{"T":633,"a":3.75002e-5,"b":3.75003e-5,"c":3.75002e-5,"d":3.74995e-5},
{"T":634.2,"a":3.75027e-5,"b":3.75023e-5,"c":3.75019e-5,"d":3.75004e-5},
{"T":635.3,"a":3.75009e-5,"b":3.7501e-5,"c":3.75009e-5,"d":3.74996e-5},
{"T":636.6,"a":3.75043e-5,"b":3.75038e-5,"c":3.750235e-5,"d":3.750045e-5},
{"T":637.9,"a":3.75e-5,"b":3.75001e-5,"c":3.75e-5,"d":3.74995e-5},
{"T":639.5,"a":3.75032e-5,"b":3.75028e-5,"c":3.75019e-5,"d":3.75003e-5},
{"T":640.4,"a":3.75015e-5,"b":3.75016e-5,"c":3.7501e-5,"d":3.75001e-5},
{"T":641,"a":3.750135e-5,"b":3.75013e-5,"c":3.75012e-5,"d":3.75001e-5},
{"T":642,"a":3.75024e-5,"b":3.750195e-5,"c":3.75016e-5},
{"T":643,"a":3.750135e-5,"b":3.75013e-5,"c":3.75012e-5},
{"T":644,"a":3.75024e-5,"b":3.750195e-5,"c":3.75016e-5,"d":3.75001e-5},
{"T":645,"a":3.750135e-5,"b":3.75013e-5,"c":3.75012e-5},
{"T":646,"a":3.750245e-5,"b":3.7502e-5,"c":3.75016e-5},
{"T":647,"a":3.75014e-5,"b":3.750135e-5,"c":3.75012e-5},
{"T":648,"a":3.750245e-5,"b":3.7502e-5,"c":3.75016e-5,"d":3.750015e-5},
{"T":649,"a":3.75014e-5,"b":3.750135e-5,"c":3.75012e-5},
{"T":650,"a":3.750245e-5,"b":3.7502e-5,"c":3.75016e-5},
{"T":651,"a":3.75014e-5,"b":3.750135e-5,"c":3.75012e-5},
{"T":652,"a":3.750245e-5,"b":3.7502e-5,"c":3.75016e-5,"d":3.75002e-5},
{"T":653,"a":3.75014e-5,"b":3.750135e-5,"c":3.75012e-5},
{"T":654,"a":3.75024e-5,"b":3.750195e-5,"c":3.75016e-5,"d":3.750025e-5},
{"T":654.5,"a":3.75019e-5,"b":3.75018e-5,"c":3.75015e-5,"d":3.75003e-5},
{"T":655,"a":3.756e-5,"b":3.756e-5,"c":3.756e-5,"d":3.756e-5}
]
},
"layer":[
{
"data":{"name":"raw"},
"mark":{"type":"line","clip":true,"strokeWidth":1.5},
"encoding":{
"x":{"field":"T","type":"quantitative","scale":{"domain":[200,655],"nice":false,"zero":false},"axis":{"orient":"top","values":[200,250,300,350,400,450,500,550,600,650],"labels":false,"title":null}},
"y":{"field":"F","type":"quantitative","scale":{"domain":[3.748e-5,3.752e-5],"nice":false,"zero":false},"axis":{"orient":"right","values":[3.748e-5,3.7485e-5,3.749e-5,3.7495e-5,3.75e-5,3.7505e-5,3.751e-5,3.7515e-5,3.752e-5],"labels":false,"title":null}},
"color":{"field":"s","type":"nominal","scale":{"domain":["R=50M","R=100M","R=150M","R=200M","R=250M","R=300M","a","b","c","d","3.750227e-5"],"range":["#ff0000","#00ff00","#0000ff","#ff00ff","#ff0000","#00ff00","#ff0000","#00ff00","#0000ff","#ff00ff","#333333"]},"legend":{"title":null,"labelExpr":"datum.label=='a'?'Extrapolated (6)':datum.label=='b'?'Extrapolated (5)':datum.label=='c'?'Extrapolated (4)':datum.label=='d'?'Extrapolated (3)':datum.label"}},
"strokeDash":{"field":"s","type":"nominal","scale":{"domain":["R=50M","R=100M","R=150M","R=200M","R=250M","R=300M","a","b","c","d","3.750227e-5"],"range":[[1,0],[1,0],[1,0],[1,0],[7,5.5],[7,5.5],[1,0],[1,0],[1,0],[1,0],[10,7]]},"legend":{"title":null,"labelExpr":"datum.label=='a'?'Extrapolated (6)':datum.label=='b'?'Extrapolated (5)':datum.label=='c'?'Extrapolated (4)':datum.label=='d'?'Extrapolated (3)':datum.label"}}
}
},
{
"data":{"name":"ext"},
"transform":[{"fold":["a","b","c","d"],"as":["s","F"]},{"filter":"isValid(datum.F)"}],
"mark":{"type":"line","clip":true,"strokeWidth":1.8},
"encoding":{
"x":{"field":"T","type":"quantitative","scale":{"domain":[200,655],"nice":false,"zero":false},"axis":{"orient":"bottom","values":[200,250,300,350,400,450,500,550,600,650],"labelPadding":51.5,"labelBaseline":"middle","title":"T(M)","titleX":714.5,"titleY":89,"titleBaseline":"middle","titleAlign":"center"}},
"y":{"field":"F","type":"quantitative","scale":{"domain":[3.748e-5,3.752e-5],"nice":false,"zero":false},"axis":{"orient":"left","values":[3.748e-5,3.7485e-5,3.749e-5,3.7495e-5,3.75e-5,3.7505e-5,3.751e-5,3.7515e-5,3.752e-5],"labelPadding":37,"labelExpr":"format(datum.value*1e5,'.5~f')+'e-05'","title":"Fₜ from flux","titleX":-296,"titleY":562,"titleAngle":270,"titleBaseline":"middle","titleAlign":"center"}},
"color":{"field":"s","type":"nominal","scale":{"domain":["R=50M","R=100M","R=150M","R=200M","R=250M","R=300M","a","b","c","d","3.750227e-5"],"range":["#ff0000","#00ff00","#0000ff","#ff00ff","#ff0000","#00ff00","#ff0000","#00ff00","#0000ff","#ff00ff","#333333"]},"legend":{"title":null,"labelExpr":"datum.label=='a'?'Extrapolated (6)':datum.label=='b'?'Extrapolated (5)':datum.label=='c'?'Extrapolated (4)':datum.label=='d'?'Extrapolated (3)':datum.label"}},
"strokeDash":{"field":"s","type":"nominal","scale":{"domain":["R=50M","R=100M","R=150M","R=200M","R=250M","R=300M","a","b","c","d","3.750227e-5"],"range":[[1,0],[1,0],[1,0],[1,0],[7,5.5],[7,5.5],[1,0],[1,0],[1,0],[1,0],[10,7]]},"legend":{"title":null,"labelExpr":"datum.label=='a'?'Extrapolated (6)':datum.label=='b'?'Extrapolated (5)':datum.label=='c'?'Extrapolated (4)':datum.label=='d'?'Extrapolated (3)':datum.label"}}
}
},
{
"data":{"name":"ref"},
"mark":{"type":"rule","strokeWidth":1.5},
"encoding":{
"y":{"field":"F","type":"quantitative","axis":null},
"color":{"field":"s","type":"nominal","scale":{"domain":["R=50M","R=100M","R=150M","R=200M","R=250M","R=300M","a","b","c","d","3.750227e-5"],"range":["#ff0000","#00ff00","#0000ff","#ff00ff","#ff0000","#00ff00","#ff0000","#00ff00","#0000ff","#ff00ff","#333333"]},"legend":{"title":null,"labelExpr":"datum.label=='a'?'Extrapolated (6)':datum.label=='b'?'Extrapolated (5)':datum.label=='c'?'Extrapolated (4)':datum.label=='d'?'Extrapolated (3)':datum.label"}},
"strokeDash":{"field":"s","type":"nominal","scale":{"domain":["R=50M","R=100M","R=150M","R=200M","R=250M","R=300M","a","b","c","d","3.750227e-5"],"range":[[1,0],[1,0],[1,0],[1,0],[7,5.5],[7,5.5],[1,0],[1,0],[1,0],[1,0],[10,7]]},"legend":{"title":null,"labelExpr":"datum.label=='a'?'Extrapolated (6)':datum.label=='b'?'Extrapolated (5)':datum.label=='c'?'Extrapolated (4)':datum.label=='d'?'Extrapolated (3)':datum.label"}}
}
}
]
}
